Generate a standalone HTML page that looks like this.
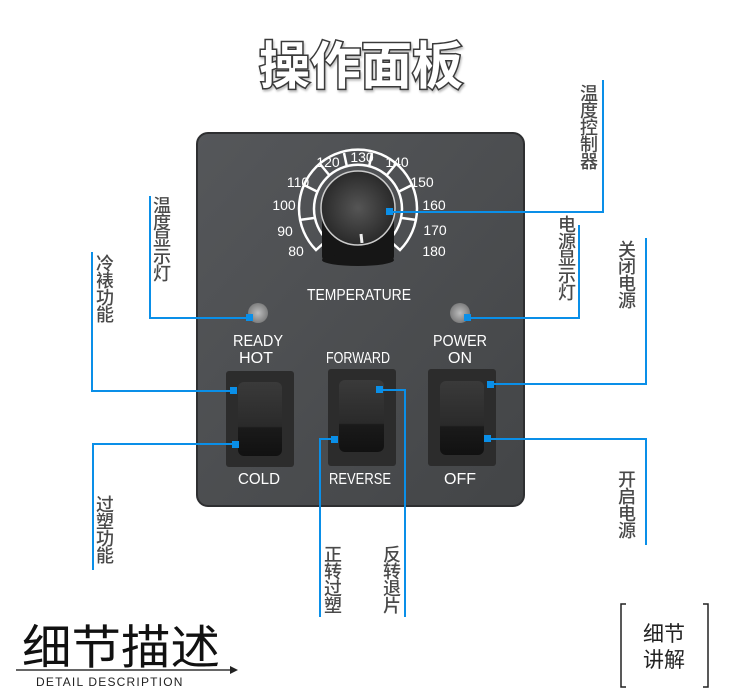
<!DOCTYPE html>
<html><head><meta charset="utf-8"><style>
html,body{margin:0;padding:0;background:#fff;}
body{width:730px;height:690px;position:relative;overflow:hidden;font-family:"Liberation Sans","Noto Sans CJK SC",sans-serif;}
.v{position:absolute;writing-mode:vertical-rl;font-family:"Noto Sans CJK SC",sans-serif;font-size:18px;line-height:18px;color:#4a4a4a;font-weight:500;letter-spacing:-1px;}
</style></head><body>
<svg width="730" height="690" style="position:absolute;left:0;top:0">
<defs>
<linearGradient id="pg" x1="0" y1="0" x2="1" y2="1"><stop offset="0" stop-color="#55575a"/><stop offset="1" stop-color="#434547"/></linearGradient>
<radialGradient id="kg" cx="0.5" cy="0.5" r="0.5"><stop offset="0" stop-color="#555"/><stop offset="1" stop-color="#2a2a2a"/></radialGradient>
<radialGradient id="led" cx="0.5" cy="0.5" r="0.5"><stop offset="0" stop-color="#d8d8d8"/><stop offset="1" stop-color="#8a8a8a"/></radialGradient>
<linearGradient id="rk" x1="0" y1="0" x2="0" y2="1"><stop offset="0" stop-color="#3a3a3a"/><stop offset="0.6" stop-color="#2a2a2a"/><stop offset="0.62" stop-color="#1a1a1a"/><stop offset="1" stop-color="#111"/></linearGradient>
</defs>
<!-- title -->
<text x="361" y="84" text-anchor="middle" font-family="Noto Sans CJK SC,sans-serif" font-size="51" font-weight="bold" fill="#fff" stroke="#3a3a3a" stroke-width="3" paint-order="stroke" style="filter:drop-shadow(1px 2px 1px #bbb)">操作面板</text>
<!-- panel -->
<rect x="197" y="133" width="327" height="373" rx="11" fill="url(#pg)" stroke="#2e2f31" stroke-width="2"/>
<!-- scale arc -->
<g transform="translate(358,210)">
<path d="M-42,40 A59,59 0 1 1 42,40 L31,30 A44,44 0 1 0 -31,30 Z" fill="none" stroke="#fff" stroke-width="2.5"/>
<g stroke="#fff" stroke-width="2.5">
<line x1="-44" y1="8" x2="-59" y2="10"/><line x1="-40" y1="-18" x2="-54" y2="-25"/><line x1="-28" y1="-34" x2="-38" y2="-46"/><line x1="-11" y1="-43" x2="-14" y2="-57"/>
<line x1="44" y1="8" x2="59" y2="10"/><line x1="40" y1="-18" x2="54" y2="-25"/><line x1="28" y1="-34" x2="38" y2="-46"/><line x1="11" y1="-43" x2="14" y2="-57"/>
</g>
</g>
<rect x="322" y="210" width="72" height="52" rx="6" fill="#161616"/>
<ellipse cx="358" cy="260" rx="36" ry="6" fill="#161616"/>
<circle cx="358" cy="208" r="37" fill="url(#kg)" stroke="#ccc" stroke-width="1.5"/>
<line x1="361" y1="234" x2="362" y2="243" stroke="#eee" stroke-width="3"/>
<g font-size="14" fill="#fff" font-family="Liberation Sans,sans-serif">
<text x="296" y="256" text-anchor="middle">80</text>
<text x="285" y="236" text-anchor="middle">90</text>
<text x="284" y="210" text-anchor="middle">100</text>
<text x="298" y="187" text-anchor="middle">110</text>
<text x="328" y="167" text-anchor="middle">120</text>
<text x="362" y="162" text-anchor="middle">130</text>
<text x="397" y="167" text-anchor="middle">140</text>
<text x="422" y="187" text-anchor="middle">150</text>
<text x="434" y="210" text-anchor="middle">160</text>
<text x="435" y="235" text-anchor="middle">170</text>
<text x="434" y="256" text-anchor="middle">180</text>
</g>
<g font-size="16" fill="#fff" font-family="Liberation Sans,sans-serif" text-anchor="middle">
<text x="359" y="300" textLength="104" lengthAdjust="spacingAndGlyphs">TEMPERATURE</text>
<text x="258" y="346" textLength="50" lengthAdjust="spacingAndGlyphs">READY</text>
<text x="256" y="363" textLength="34" lengthAdjust="spacingAndGlyphs">HOT</text>
<text x="358" y="363" textLength="64" lengthAdjust="spacingAndGlyphs">FORWARD</text>
<text x="460" y="346" textLength="54" lengthAdjust="spacingAndGlyphs">POWER</text>
<text x="460" y="363">ON</text>
<text x="259" y="484" textLength="42" lengthAdjust="spacingAndGlyphs">COLD</text>
<text x="360" y="484" textLength="62" lengthAdjust="spacingAndGlyphs">REVERSE</text>
<text x="460" y="484">OFF</text>
</g>
<circle cx="258" cy="313" r="10" fill="url(#led)" opacity="0.8"/>
<circle cx="460" cy="313" r="10" fill="url(#led)" opacity="0.8"/>
<!-- switches -->
<g>
<rect x="226" y="371" width="68" height="96" rx="3" fill="#2c2c2c"/>
<rect x="238" y="382" width="44" height="74" rx="6" fill="url(#rk)"/>
<rect x="328" y="369" width="68" height="97" rx="3" fill="#2c2c2c"/>
<rect x="339" y="380" width="45" height="72" rx="6" fill="url(#rk)"/>
<rect x="428" y="369" width="68" height="97" rx="3" fill="#2c2c2c"/>
<rect x="440" y="381" width="44" height="74" rx="6" fill="url(#rk)"/>
</g>
<!-- connectors -->
<g stroke="#0a8fe8" stroke-width="2" fill="none">
<polyline points="389,212 603,212 603,80"/>
<polyline points="250,318 150,318 150,196"/>
<polyline points="467,318 579,318 579,225"/>
<polyline points="490,384 646,384 646,238"/>
<polyline points="487,439 646,439 646,545"/>
<polyline points="234,391 92,391 92,252"/>
<polyline points="236,444 93,444 93,570"/>
<polyline points="334,439 320,439 320,617"/>
<polyline points="380,390 405,390 405,617"/>
</g>
<g fill="#0a8fe8">
<rect x="386" y="208" width="7" height="7"/>
<rect x="246" y="314" width="7" height="7"/>
<rect x="464" y="314" width="7" height="7"/>
<rect x="487" y="381" width="7" height="7"/>
<rect x="484" y="435" width="7" height="7"/>
<rect x="230" y="387" width="7" height="7"/>
<rect x="232" y="441" width="7" height="7"/>
<rect x="331" y="436" width="7" height="7"/>
<rect x="376" y="386" width="7" height="7"/>
</g>
<!-- bottom -->
<line x1="16" y1="670" x2="233" y2="670" stroke="#333" stroke-width="1.5"/>
<path d="M230,666 L238,670 L230,674 Z" fill="#222"/>
<text x="22" y="664" font-family="Noto Sans CJK SC,sans-serif" font-size="47" fill="#111" textLength="198" lengthAdjust="spacingAndGlyphs">细节描述</text>
<text x="36" y="686" font-family="Liberation Sans,sans-serif" font-size="12" fill="#222" letter-spacing="1.2">DETAIL DESCRIPTION</text>
<path d="M626,604 L621,604 L621,687 L626,687" stroke="#222" stroke-width="1.5" fill="none"/>
<path d="M703,604 L708,604 L708,687 L703,687" stroke="#222" stroke-width="1.5" fill="none"/>
<text x="664" y="641" text-anchor="middle" font-family="Noto Sans CJK SC,sans-serif" font-size="21" fill="#222">细节</text>
<text x="664" y="667" text-anchor="middle" font-family="Noto Sans CJK SC,sans-serif" font-size="21" fill="#222">讲解</text>
</svg>
<div class="v" style="left:580px;top:84px">温度控制器</div>
<div class="v" style="left:153px;top:196px">温度显示灯</div>
<div class="v" style="left:558px;top:215px">电源显示灯</div>
<div class="v" style="left:618px;top:240px">关闭电源</div>
<div class="v" style="left:618px;top:470px">开启电源</div>
<div class="v" style="left:96px;top:254px">冷裱功能</div>
<div class="v" style="left:96px;top:495px">过塑功能</div>
<div class="v" style="left:324px;top:545px">正转过塑</div>
<div class="v" style="left:383px;top:545px">反转退片</div>
</body></html>
